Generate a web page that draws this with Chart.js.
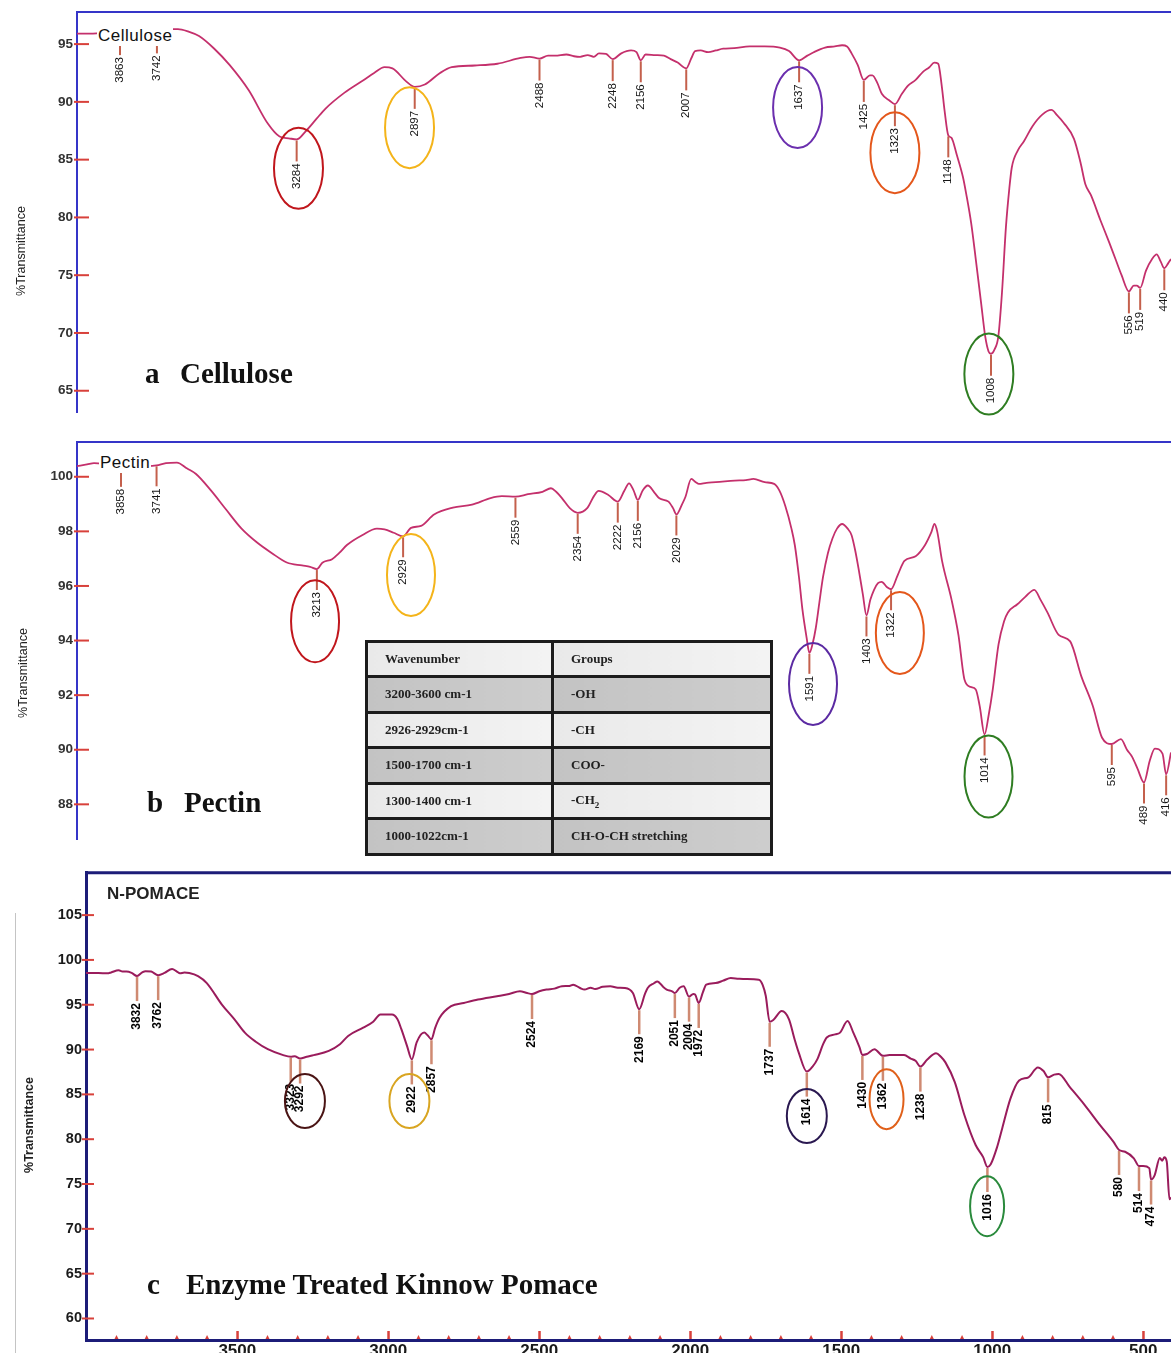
<!DOCTYPE html>
<html>
<head>
<meta charset="utf-8">
<script src="https://cdn.jsdelivr.net/npm/chart.js@4.4.0/dist/chart.umd.min.js"></script>
<style>
  body { margin: 0; background: #fff; }
  #wrap { position: relative; width: 1171px; height: 1353px; overflow: hidden; background: #fff; }
  #wrap canvas { position: absolute; left: 0; }
  .txt { position: absolute; white-space: nowrap; line-height: 1; }
  .big { font: bold 29px "Liberation Serif", "Times New Roman", serif; color: #111; }
  .small { font: 17px "Liberation Sans", Arial, sans-serif; color: #111; background: #fff; letter-spacing: 0.5px; padding: 0 1px; }
  .ytitle { width: 140px; text-align: center; transform: rotate(-90deg); font: 12.5px "Liberation Sans", Arial, sans-serif; color: #222; }
  #groups { position: absolute; left: 365px; top: 640px; width: 408px; border-collapse: collapse;
            font: bold 13px "Liberation Serif", "Times New Roman", serif; color: #222; }
  #groups td { border: 3px solid #1c1c1c; padding: 0 0 0 17px; }
  #groups td:first-child { width: 166px; }
  #groups tr { height: 35.5px; }
  #groups tr.hd { height: 35px; }
  #groups tr.lt td { background: linear-gradient(90deg, #e9e9e9, #f3f3f3); }
  #groups tr.dk td { background: linear-gradient(90deg, #c3c3c3, #cdcdcd); }
  #gline { position: absolute; left: 15px; top: 913px; width: 1px; height: 440px; background: #c4c4c4; }
</style>
</head>
<body>
<div id="wrap">
  <canvas id="chartA" width="1171" height="430" style="top:0px"></canvas>
  <canvas id="chartB" width="1171" height="430" style="top:430px"></canvas>
  <canvas id="chartC" width="1171" height="493" style="top:860px"></canvas>

  <div class="txt small" style="left:97px; top:26px;">Cellulose</div>
  <div class="txt small" style="left:99px; top:453px;">Pectin</div>
  <div class="txt" style="left:107px; top:884px; font: bold 17px 'Liberation Sans', Arial, sans-serif; color:#222;">N-POMACE</div>

  <div class="txt big" style="left:145px; top:357px;">a</div>
  <div class="txt big" style="left:180px; top:357px;">Cellulose</div>
  <div class="txt big" style="left:147px; top:786px;">b</div>
  <div class="txt big" style="left:184px; top:786px;">Pectin</div>
  <div class="txt big" style="left:147px; top:1268px;">c</div>
  <div class="txt big" style="left:186px; top:1268px;">Enzyme Treated Kinnow Pomace</div>

  <div class="txt ytitle" style="left:-49px; top:244px;">%Transmittance</div>
  <div class="txt ytitle" style="left:-47px; top:666px;">%Transmittance</div>
  <div class="txt ytitle" style="left:-41px; top:1118px; font-weight:bold;">%Transmittance</div>
  <div id="gline"></div>

  <table id="groups">
    <tr class="hd lt"><td>Wavenumber</td><td>Groups</td></tr>
    <tr class="dk"><td>3200-3600 cm-1</td><td>-OH</td></tr>
    <tr class="lt"><td>2926-2929cm-1</td><td>-CH</td></tr>
    <tr class="dk"><td>1500-1700 cm-1</td><td>COO-</td></tr>
    <tr class="lt"><td>1300-1400 cm-1</td><td>-CH<sub style="font-size:9px">2</sub></td></tr>
    <tr class="dk"><td>1000-1022cm-1</td><td>CH-O-CH stretching</td></tr>
  </table>
</div>

<script>
// ---- a: Cellulose ----
const wnA = [4004,3960,3920,3863,3800,3742,3700,3673,3640,3604,
  3554,3504,3441,3378,3340,3310,3284,3253,3220,3190,
  3127,3064,3030,2996,2970,2926,2897,2864,2814,2776,
  2700,2626,2550,2520,2488,2460,2437,2400,2375,2355,
  2330,2310,2293,2270,2248,2220,2188,2170,2156,2140,
  2108,2080,2058,2035,2007,1990,1978,1960,1935,1910,
  1886,1850,1799,1750,1700,1670,1637,1610,1589,1552,
  1520,1496,1480,1465,1445,1425,1405,1397,1380,1366,
  1340,1323,1300,1280,1255,1231,1210,1194,1181,1170,
  1160,1148,1138,1120,1100,1089,1073,1058,1040,1027,
  1016,1008,996,984,972,959,948,940,920,900,
  872,840,810,790,770,736,715,699,680,650,
  620,600,580,556,540,530,519,500,480,465,
  452,440,428,418];
const tA = [95.9,95.9,95.95,95.95,96.0,96.1,96.3,96.3,96.1,95.7,
  94.6,93.2,91.0,88.1,87.0,86.85,86.75,87.5,88.5,89.4,
  90.8,91.9,92.5,93.0,92.9,91.8,91.3,91.5,92.5,93.0,
  93.15,93.3,93.8,93.9,93.75,94.0,94.0,94.1,93.95,93.9,
  94.05,93.9,94.2,94.15,93.7,94.2,94.45,94.3,93.6,94.1,
  94.05,94.0,93.7,93.4,92.9,93.8,94.4,94.45,94.3,94.45,
  94.6,94.65,94.8,94.8,94.7,94.4,93.6,94.0,94.3,94.7,
  94.8,94.9,94.8,94.2,93.2,91.9,92.3,92.3,91.6,90.7,
  90.1,89.8,90.7,91.4,91.9,92.6,93.0,93.4,93.3,91.5,
  89.2,87.1,86.9,85.4,83.5,82.0,79.5,76.4,72.5,69.7,
  68.4,68.2,68.6,69.7,73.5,79.2,82.5,84.3,85.8,86.6,
  87.9,88.9,89.3,88.8,88.2,86.8,84.8,82.9,81.9,79.8,
  77.8,76.4,75.0,73.6,74.1,74.1,73.9,75.4,76.4,76.8,
  76.2,75.6,76.0,76.4];
const peaksA = [3863,3742,3284,2897,2488,2248,2156,2007,1637,1425,1323,1148,1008,556,519,440];
const yTicksA = [65,70,75,80,85,90,95];

// ---- b: Pectin ----
const wnB = [4003,3970,3947,3900,3858,3800,3766,3741,3710,3674,
  3640,3611,3562,3512,3461,3411,3361,3312,3262,3235,
  3213,3195,3163,3140,3114,3064,3015,2990,2960,2929,
  2903,2870,2827,2765,2702,2641,2604,2559,2518,2470,
  2442,2425,2406,2380,2354,2322,2300,2285,2253,2222,
  2200,2185,2170,2156,2140,2123,2100,2085,2055,2040,
  2029,2010,1999,1980,1965,1955,1930,1899,1837,1800,
  1775,1738,1707,1690,1670,1650,1639,1625,1614,1600,
  1591,1580,1570,1558,1546,1530,1515,1500,1483,1465,
  1452,1440,1428,1415,1403,1390,1378,1365,1353,1335,
  1322,1300,1278,1241,1210,1190,1179,1170,1154,1123,
  1100,1080,1060,1043,1030,1014,1000,987,968,950,
  937,906,880,850,830,807,770,732,695,658,
  627,595,565,545,528,510,489,470,453,428,
  416,400];
const tB = [100.39,100.45,100.5,100.45,100.4,100.4,100.39,100.42,100.5,100.52,
  100.3,100.1,99.5,98.8,98.1,97.6,97.2,96.86,96.75,96.7,
  96.62,96.85,96.98,97.2,97.5,97.86,98.1,98.07,97.95,97.82,
  98.13,98.2,98.62,98.87,98.98,99.22,99.29,99.27,99.36,99.45,
  99.58,99.45,99.22,98.85,98.68,98.86,99.3,99.48,99.33,99.09,
  99.5,99.76,99.5,99.15,99.5,99.68,99.4,99.21,99.09,98.85,
  98.62,99.0,99.27,99.92,99.8,99.74,99.78,99.80,99.86,99.88,
  99.92,99.80,99.74,99.5,98.92,98.1,97.5,96.3,95.15,94.1,
  93.55,93.9,94.45,95.4,96.33,97.2,97.74,98.1,98.27,98.1,
  97.86,97.3,96.57,95.7,94.92,95.5,95.86,96.1,96.15,95.95,
  95.88,96.4,96.92,97.09,97.5,97.95,98.27,98.0,96.92,95.51,
  94.2,92.56,92.3,92.21,91.6,90.56,91.3,92.21,93.86,94.7,
  95.03,95.33,95.6,95.86,95.5,95.03,94.21,93.97,92.68,91.62,
  90.44,90.21,90.39,90.0,89.74,89.3,88.8,89.6,90.04,89.86,
  89.1,89.9];
const peaksB = [3858,3741,3213,2929,2559,2354,2222,2156,2029,1591,1403,1322,1014,595,489,416];
const yTicksB = [88,90,92,94,96,98,100];

// ---- c: Enzyme treated Kinnow pomace (N-POMACE) ----
const wnC = [4001,3960,3930,3918,3893,3880,3867,3850,3832,3815,
  3804,3785,3762,3741,3716,3700,3690,3675,3659,3630,
  3601,3551,3510,3475,3440,3399,3348,3323,3310,3292,
  3270,3247,3197,3160,3133,3083,3050,3026,2988,2970,
  2957,2938,2922,2906,2881,2870,2857,2845,2830,2792,
  2750,2703,2640,2600,2564,2540,2524,2500,2476,2450,
  2425,2400,2388,2365,2350,2330,2315,2290,2265,2240,
  2216,2190,2169,2150,2141,2120,2109,2090,2078,2060,
  2051,2035,2022,2004,1990,1984,1972,1958,1947,1916,
  1890,1866,1840,1816,1773,1760,1750,1737,1725,1697,
  1673,1655,1641,1614,1595,1579,1560,1548,1520,1504,
  1479,1460,1440,1430,1415,1390,1362,1340,1292,1270,
  1254,1238,1215,1186,1170,1155,1124,1092,1055,1030,
  1016,1005,985,967,940,911,880,849,830,815,
  795,780,743,693,643,599,580,560,531,514,
  500,480,474,462,445,437,430,422,413,408];
const tC = [98.53,98.55,98.5,98.6,98.85,98.7,98.7,98.55,98.2,98.6,
  98.75,98.7,98.3,98.55,99.0,98.7,98.5,98.6,98.55,98.2,
  97.42,95.02,93.4,91.89,90.9,90.04,89.38,89.2,89.25,89.0,
  89.2,89.38,89.86,90.6,91.52,92.44,93.1,93.92,93.9,93.4,
  92.3,90.42,88.9,90.79,91.89,91.6,91.15,92.4,93.55,94.84,
  95.2,95.58,95.95,96.2,96.5,96.3,96.2,96.5,96.69,96.8,
  97.06,97.1,97.24,96.87,96.69,96.9,96.76,97.0,97.06,96.9,
  96.87,96.32,94.5,96.2,96.87,97.4,97.6,97.0,96.69,96.5,
  96.3,96.9,97.06,95.9,96.2,96.14,95.2,96.4,97.24,97.42,
  97.7,97.97,97.9,97.86,97.79,97.2,96.0,93.1,93.3,94.29,
  93.37,91.2,89.68,87.54,88.1,88.94,90.6,91.34,91.7,91.89,
  93.18,91.89,90.3,89.4,89.5,90.04,89.3,89.38,89.38,89.0,
  88.75,88.1,88.9,89.6,89.2,88.57,86.36,82.67,79.35,78.0,
  76.9,77.2,79.0,81.2,84.5,86.54,86.91,88.01,87.6,86.9,
  87.2,87.28,85.81,83.78,81.57,79.72,78.8,78.6,77.87,77.0,
  77.0,76.77,75.5,76.0,77.9,77.6,78.0,77.5,73.3,73.5];
const peaksC = [3832,3762,3323,3292,2922,2857,2524,2169,2051,2004,1972,1737,1614,1430,1362,1238,1016,815,580,514,474];
const yTicksC = [60,65,70,75,80,85,90,95,100,105];
const xTicksC = [3500,3000,2500,2000,1500,1000,500];

// circled bands (annotations)
const ringsA = [
  { wn: 3278, t: 84.25, color: '#c0161c' },
  { wn: 2914, t: 87.77, color: '#f4b41a' },
  { wn: 1642, t: 89.51, color: '#6b2fae' },
  { wn: 1323, t: 85.6,  color: '#e4571b' },
  { wn: 1015, t: 66.44, color: '#2f7d22' }
];
const ringsB = [
  { wn: 3219, t: 94.71, color: '#c0161c' },
  { wn: 2903, t: 96.40, color: '#f4b41a' },
  { wn: 1579, t: 92.41, color: '#5b2aa2' },
  { wn: 1293, t: 94.28, color: '#e4571b' },
  { wn: 1001, t: 89.02, color: '#2f7d22' }
];
const ringsC = [
  { wn: 3276, t: 84.25, color: '#4a1414', rx: 20, ry: 27 },
  { wn: 2930, t: 84.25, color: '#d9a521', rx: 20, ry: 27 },
  { wn: 1614, t: 82.59, color: '#2a1850', rx: 20, ry: 27 },
  { wn: 1350, t: 84.47, color: '#e0601a', rx: 17, ry: 30 },
  { wn: 1017, t: 72.53, color: '#2a8a3c', rx: 17, ry: 30 }
];

function valueAt(xs, ys, w) {
  for (let i = 0; i < xs.length - 1; i++) {
    if (w <= xs[i] && w >= xs[i + 1]) {
      const f = (xs[i] - w) / (xs[i] - xs[i + 1]);
      return ys[i] + f * (ys[i + 1] - ys[i]);
    }
  }
  return ys[ys.length - 1];
}

// draws frame, red tick dashes, peak stems + labels and the rings
function ftirPlugin(p) {
  return {
    id: 'ftir',
    afterDatasetsDraw(chart) {
      const { ctx, chartArea: a, scales: { x, y } } = chart;
      ctx.save();
      ctx.strokeStyle = p.axisColor;
      ctx.lineWidth = p.axisWidth;
      ctx.beginPath();
      ctx.moveTo(a.left, a.top);
      ctx.lineTo(a.right, a.top);
      ctx.stroke();

      ctx.strokeStyle = '#d8413b';
      ctx.lineWidth = 2;
      p.yTicks.forEach(v => {
        const py = y.getPixelForValue(v);
        ctx.beginPath();
        ctx.moveTo(a.left - p.dashOut, py);
        ctx.lineTo(a.left + p.dashIn, py);
        ctx.stroke();
      });

      if (p.xMarks) {
        ctx.fillStyle = '#d8413b';
        for (let w = 3900; w >= 500; w -= 100) {
          const px = x.getPixelForValue(w);
          if (w % 500 === 0) {
            ctx.fillRect(px - 1, a.bottom - 9, 2.5, 8);
          } else {
            ctx.beginPath();
            ctx.moveTo(px - 2, a.bottom - 1);
            ctx.lineTo(px + 2, a.bottom - 1);
            ctx.lineTo(px, a.bottom - 5);
            ctx.fill();
          }
        }
      }

      ctx.font = p.peakFont;
      ctx.textAlign = 'right';
      ctx.textBaseline = 'middle';
      p.peaks.forEach(w => {
        const px = x.getPixelForValue(w);
        const py = y.getPixelForValue(valueAt(p.xs, p.ys, w));
        ctx.strokeStyle = p.stemColor;
        ctx.lineWidth = p.stemWidth;
        ctx.beginPath();
        ctx.moveTo(px, py + 1);
        ctx.lineTo(px, py + p.stem);
        ctx.stroke();
        ctx.save();
        ctx.translate(px, py + p.stem + 2);
        ctx.rotate(-Math.PI / 2);
        ctx.fillStyle = p.peakColor;
        ctx.fillText(String(w), 0, 0);
        ctx.restore();
      });

      ctx.lineWidth = 2;
      p.rings.forEach(r => {
        ctx.strokeStyle = r.color;
        ctx.beginPath();
        ctx.ellipse(x.getPixelForValue(r.wn), y.getPixelForValue(r.t),
          r.rx || p.rx, r.ry || p.ry, 0, 0, Math.PI * 2);
        ctx.stroke();
      });
      ctx.restore();
    }
  };
}

function makePanel(id, p) {
  const pts = p.xs.map((w, i) => ({ x: w, y: p.ys[i] }));
  return new Chart(document.getElementById(id).getContext('2d'), {
    type: 'line',
    data: {
      datasets: [{
        data: pts,
        borderColor: p.lineColor,
        borderWidth: p.lineWidth,
        pointRadius: 0,
        fill: false,
        cubicInterpolationMode: 'monotone'
      }]
    },
    options: {
      responsive: false,
      animation: false,
      devicePixelRatio: 1,
      layout: { padding: { top: p.padTop, bottom: p.padBottom, left: 0, right: 0 } },
      plugins: { legend: { display: false }, tooltip: { enabled: false } },
      scales: {
        x: {
          type: 'linear',
          reverse: true,
          min: p.xMin,
          max: p.xMax,
          display: !!p.xTicks,
          afterFit: s => { s.height = 13; },
          afterBuildTicks: s => { if (p.xTicks) s.ticks = p.xTicks.map(v => ({ value: v })); },
          grid: { display: false, drawTicks: false },
          border: { display: true, color: p.axisColor, width: p.axisWidth },
          ticks: {
            autoSkip: false,
            maxRotation: 0,
            padding: 1,
            color: '#1a1a1a',
            callback: v => String(v),
            font: { family: 'Liberation Sans, Arial', size: 17, weight: 'bold' }
          }
        },
        y: {
          min: p.yMin,
          max: p.yMax,
          afterFit: s => { s.width = p.axisLeft; },
          afterBuildTicks: s => { s.ticks = p.yTicks.map(v => ({ value: v })); },
          grid: { display: false, drawTicks: false },
          border: { display: true, color: p.axisColor, width: p.axisWidth },
          ticks: {
            padding: 4,
            color: p.tickColor,
            font: { family: 'Liberation Sans, Arial', size: p.tickSize, weight: 'bold' }
          }
        }
      }
    },
    plugins: [ftirPlugin(p)]
  });
}

makePanel('chartA', {
  xs: wnA, ys: tA, peaks: peaksA, rings: ringsA, yTicks: yTicksA,
  xMin: 418, xMax: 4004, yMin: 63.16, yMax: 97.77,
  padTop: 12, padBottom: 5, axisLeft: 77,
  axisColor: '#3535c8', axisWidth: 2, lineColor: '#c4306c', lineWidth: 1.8,
  tickColor: '#333', tickSize: 13.5, dashOut: 3, dashIn: 12,
  stem: 22, stemColor: '#c4604c', stemWidth: 2,
  peakFont: '11.5px "Liberation Sans", Arial', peakColor: '#151515',
  rx: 24.5, ry: 40.5
});

makePanel('chartB', {
  xs: wnB, ys: tB, peaks: peaksB, rings: ringsB, yTicks: yTicksB,
  xMin: 400, xMax: 4003, yMin: 86.73, yMax: 101.27,
  padTop: 10, padBottom: 8, axisLeft: 77,
  axisColor: '#3535c8', axisWidth: 2, lineColor: '#c4306c', lineWidth: 1.8,
  tickColor: '#333', tickSize: 13.5, dashOut: 3, dashIn: 12,
  stem: 21, stemColor: '#c4604c', stemWidth: 2,
  peakFont: '11.5px "Liberation Sans", Arial', peakColor: '#151515',
  rx: 24, ry: 41
});

makePanel('chartC', {
  xs: wnC, ys: tC, peaks: peaksC, rings: ringsC, yTicks: yTicksC, xTicks: xTicksC, xMarks: true,
  xMin: 408, xMax: 4001, yMin: 57.6, yMax: 109.73,
  padTop: 8, padBottom: 0, axisLeft: 86,
  axisColor: '#1c1c78', axisWidth: 3, lineColor: '#9a1c5c', lineWidth: 2,
  tickColor: '#1a1a1a', tickSize: 14.5, dashOut: 4, dashIn: 8,
  stem: 25, stemColor: '#cf8a72', stemWidth: 2.5,
  peakFont: 'bold 12px "Liberation Sans", Arial', peakColor: '#000',
  rx: 19, ry: 27
});
</script>
</body>
</html>
